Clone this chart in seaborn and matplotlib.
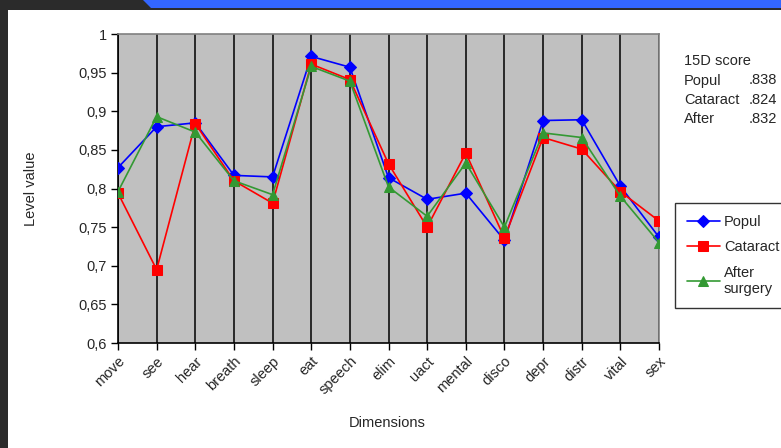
import matplotlib
matplotlib.use("Agg")
import matplotlib.pyplot as plt
import matplotlib.ticker as mticker
from matplotlib.patches import Rectangle, Polygon
import seaborn as sns
import pandas as pd

# Data
dimensions = ['move', 'see', 'hear', 'breath', 'sleep', 'eat', 'speech', 'elim',
              'uact', 'mental', 'disco', 'depr', 'distr', 'vital', 'sex']
popul = [0.827, 0.880, 0.885, 0.817, 0.815, 0.971, 0.957, 0.814,
         0.786, 0.794, 0.733, 0.888, 0.889, 0.803, 0.737]
cataract = [0.794, 0.695, 0.884, 0.810, 0.781, 0.961, 0.941, 0.832,
            0.750, 0.846, 0.736, 0.866, 0.851, 0.796, 0.758]
after = [0.796, 0.893, 0.873, 0.810, 0.792, 0.958, 0.939, 0.802,
         0.764, 0.833, 0.750, 0.872, 0.866, 0.790, 0.730]
score_names = ['Popul', 'Cataract', 'After']
score_values = ['.838', '.824', '.832']

sns.set_theme(style="white")
plt.rcParams['font.family'] = ['Liberation Sans', 'DejaVu Sans']

W, H = 781, 448
fig = plt.figure(figsize=(W / 100, H / 100), dpi=100)
fig.patch.set_facecolor('white')

# dark window frame around the chart
fig.patches.append(Rectangle((0, 0), 8 / W, 1, transform=fig.transFigure,
                             facecolor='#2b2b2b', edgecolor='none', zorder=0))
fig.patches.append(Rectangle((0, 1 - 10 / H), 1, 10 / H, transform=fig.transFigure,
                             facecolor='#2b2b2b', edgecolor='none', zorder=0))
fig.patches.append(Polygon([(143 / W, 1), (1, 1), (1, 1 - 8.5 / H), (151 / W, 1 - 8.5 / H)],
                           closed=True, transform=fig.transFigure,
                           facecolor='#3366ff', edgecolor='none', zorder=1))

ax = fig.add_axes([118 / W, 105 / H, 541 / W, 309 / H])
ax.set_facecolor('#c0c0c0')

df = pd.DataFrame({'dim': dimensions, 'Popul': popul,
                   'Cataract': cataract, 'After surgery': after})

sns.lineplot(data=df, x='dim', y='Popul', ax=ax, color='#0000ff', marker='D',
             markersize=6, markeredgecolor='#0000ff', linewidth=1.2,
             label='Popul', sort=False, zorder=3)
sns.lineplot(data=df, x='dim', y='Cataract', ax=ax, color='#ff0000', marker='s',
             markersize=7, markeredgecolor='#ff0000', linewidth=1.2,
             label='Cataract', sort=False, zorder=4)
sns.lineplot(data=df, x='dim', y='After surgery', ax=ax, color='#339933', marker='^',
             markersize=7.5, markeredgecolor='#339933', linewidth=1.2,
             label='After\nsurgery', sort=False, zorder=5)

ax.set_xlim(0, len(dimensions) - 1)
ax.set_ylim(0.6, 1.0)
ax.yaxis.set_major_locator(mticker.MultipleLocator(0.05))
ax.yaxis.set_major_formatter(mticker.FuncFormatter(
    lambda v, p: f'{v:.2f}'.rstrip('0').rstrip('.').replace('.', ',')))

ax.set_xticks(range(len(dimensions)))
ax.set_xticklabels(dimensions, rotation=45, ha='right', rotation_mode='anchor',
                   fontsize=10.5)
ax.tick_params(axis='y', labelsize=10.5, length=5, width=1, color='black',
               direction='out', left=True, pad=3)
ax.tick_params(axis='x', length=5, width=1, color='black', direction='out',
               bottom=True, pad=3)

ax.grid(axis='x', color='black', linewidth=1.1)
ax.grid(axis='y', visible=False)
ax.set_axisbelow(True)

for s in ['top', 'right']:
    ax.spines[s].set_color('#808080')
    ax.spines[s].set_linewidth(1.2)
for s in ['left', 'bottom']:
    ax.spines[s].set_color('black')
    ax.spines[s].set_linewidth(1.2)

ax.set_xlabel('Dimensions', fontsize=10.5)
ax.set_ylabel('Level value', fontsize=10.5)
ax.xaxis.set_label_coords(0.498, -0.236)
ax.yaxis.set_label_coords(-0.147, 0.5)

leg = ax.legend(loc='upper left', bbox_to_anchor=(675 / W, 1 - 203 / H),
                bbox_transform=fig.transFigure, borderaxespad=0,
                frameon=True, fancybox=False, fontsize=10.5,
                handlelength=2.3, handletextpad=0.25, labelspacing=0.8,
                borderpad=0.8)
leg.get_frame().set_edgecolor('black')
leg.get_frame().set_linewidth(1)

# 15D score note
fig.text(684 / W, 1 - 61 / H, '15D score', fontsize=10.5, va='center', ha='left')
for i, (n, v) in enumerate(zip(score_names, score_values)):
    y = 1 - (80.5 + 19.2 * i) / H
    fig.text(684 / W, y, n, fontsize=10.5, va='center', ha='left')
    fig.text(777 / W, y, v, fontsize=10.5, va='center', ha='right')

plt.savefig('out.png', dpi=100)
